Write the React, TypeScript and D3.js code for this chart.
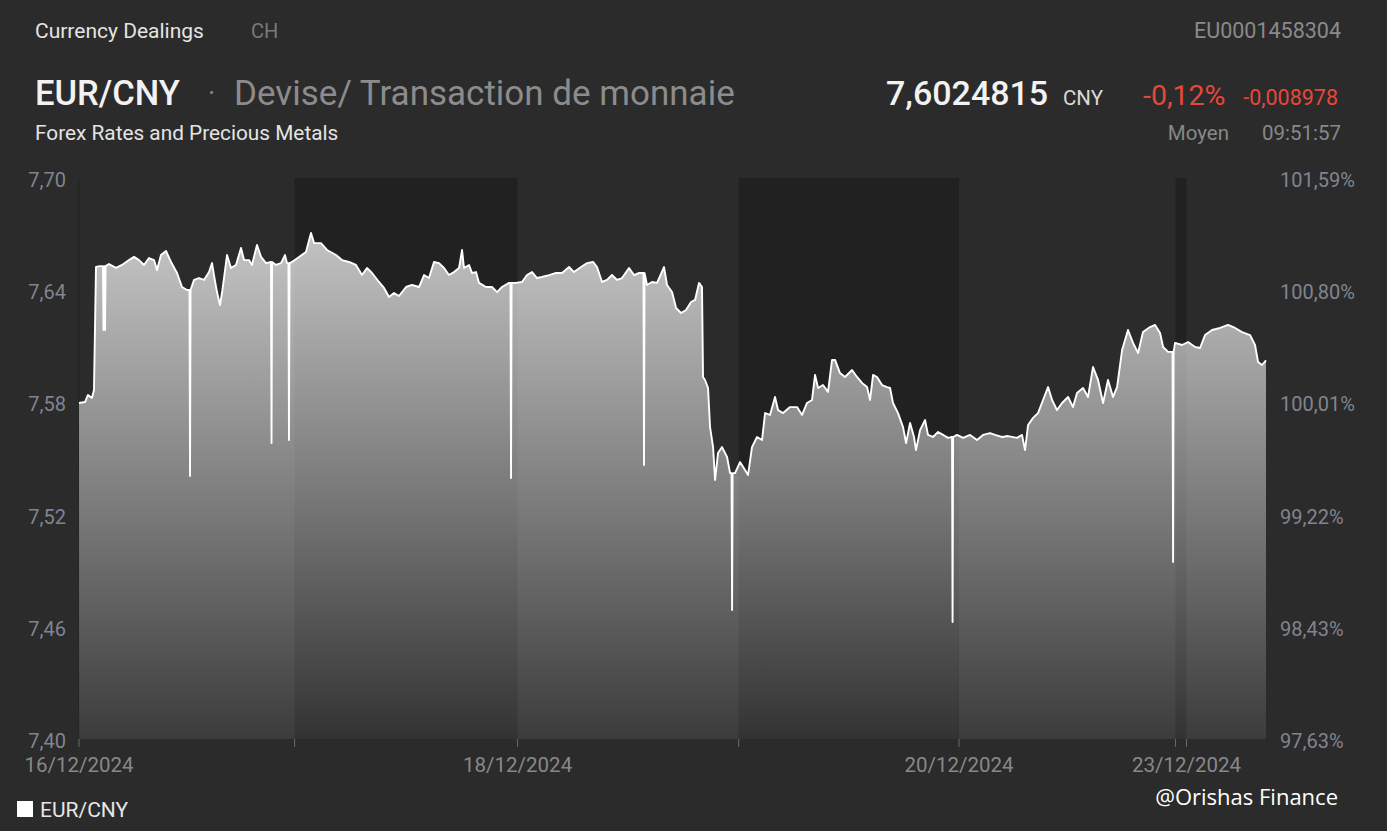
import React from 'react';
import * as d3 from 'd3';

// EUR/CNY intraday quotes: [hours since 16/12/2024 session open, rate]
const rateSeries: [number, number][] = [
  [0.0, 7.5797], [0.66, 7.5802], [0.98, 7.584], [1.42, 7.5824], [1.64, 7.5866],
  [1.86, 7.6524], [2.3, 7.6529], [3.28, 7.654], [4.05, 7.6519], [4.71, 7.6535],
  [5.47, 7.6561], [6.02, 7.6578], [6.57, 7.6561], [7.11, 7.6535], [7.66, 7.6572],
  [8.21, 7.6561], [8.54, 7.6508], [8.97, 7.6588], [9.52, 7.661], [10.07, 7.6551],
  [10.73, 7.6492], [11.27, 7.6417], [11.82, 7.6401], [12.59, 7.6455], [13.13, 7.6465],
  [13.68, 7.6455], [14.23, 7.6497], [14.56, 7.6545], [14.77, 7.6481], [15.1, 7.639],
  [15.43, 7.6321], [15.65, 7.6385], [16.2, 7.6588], [16.63, 7.6519], [17.18, 7.6535],
  [17.73, 7.6626], [18.06, 7.6561], [18.6, 7.6561], [18.93, 7.6535], [19.48, 7.6642],
  [19.92, 7.6578], [20.47, 7.6545], [21.01, 7.6551], [21.56, 7.6535], [22.11, 7.6545],
  [22.54, 7.6588], [22.76, 7.6545], [23.31, 7.6551], [24.08, 7.6578], [24.84, 7.6604],
  [25.39, 7.6706], [25.72, 7.6652], [26.48, 7.6652], [27.14, 7.6615], [28.13, 7.6588],
  [28.78, 7.6561], [29.55, 7.6551], [30.31, 7.6535], [30.97, 7.6481], [31.52, 7.6519],
  [32.07, 7.6492], [32.83, 7.6444], [33.38, 7.6412], [33.93, 7.6364], [34.47, 7.6385],
  [35.02, 7.6369], [35.79, 7.6417], [36.44, 7.6428], [37.21, 7.6417], [37.76, 7.6481],
  [38.3, 7.6465], [38.85, 7.6551], [39.4, 7.6545], [39.95, 7.6519], [40.49, 7.6481],
  [41.04, 7.6497], [41.59, 7.6519], [41.92, 7.6615], [42.13, 7.6519], [42.68, 7.6535],
  [43.01, 7.6492], [43.45, 7.6497], [43.78, 7.6439], [44.54, 7.6417], [45.2, 7.6417],
  [45.75, 7.639], [46.29, 7.6417], [47.06, 7.6439], [47.83, 7.6439], [48.48, 7.6444],
  [49.03, 7.6481], [49.58, 7.6497], [50.12, 7.6465], [50.67, 7.6471], [51.44, 7.6481],
  [52.2, 7.6492], [52.86, 7.6492], [53.63, 7.6524], [54.17, 7.6497], [54.94, 7.6524],
  [55.6, 7.6545], [56.25, 7.6551], [56.69, 7.6524], [57.24, 7.6444], [57.78, 7.6455],
  [58.33, 7.6481], [58.88, 7.6455], [59.43, 7.6465], [60.19, 7.6519], [60.74, 7.6481],
  [61.29, 7.6492], [62.16, 7.6428], [62.71, 7.6444], [63.26, 7.6439], [64.02, 7.6524],
  [64.35, 7.6428], [64.9, 7.639], [65.34, 7.6305], [65.88, 7.6278], [66.43, 7.6294],
  [66.98, 7.6337], [67.42, 7.6348], [67.85, 7.6439], [68.18, 7.6417], [68.29, 7.5936],
  [68.51, 7.592], [68.84, 7.5877], [69.06, 7.5668], [69.39, 7.5561], [69.61, 7.5385],
  [69.93, 7.5529], [70.37, 7.5561], [70.92, 7.5508], [71.25, 7.5422], [71.79, 7.5422],
  [72.34, 7.5481], [72.89, 7.5439], [73.22, 7.5412], [73.65, 7.5561], [74.2, 7.5615],
  [74.75, 7.5599], [75.08, 7.5743], [75.62, 7.5733], [76.17, 7.5829], [76.5, 7.5759],
  [77.05, 7.5743], [77.81, 7.5775], [78.58, 7.5775], [79.13, 7.5733], [79.67, 7.5797],
  [80.22, 7.5813], [80.55, 7.5947], [80.88, 7.5877], [81.42, 7.5893], [81.97, 7.5856],
  [82.41, 7.6027], [82.74, 7.6027], [83.28, 7.5957], [83.83, 7.5936], [84.6, 7.5973],
  [85.14, 7.5936], [85.69, 7.5904], [86.24, 7.5882], [86.57, 7.5813], [86.9, 7.5947],
  [87.33, 7.5936], [87.88, 7.5893], [88.43, 7.5882], [88.76, 7.5877], [89.08, 7.5797],
  [89.63, 7.5743], [90.18, 7.5668], [90.51, 7.5583], [90.95, 7.569], [91.38, 7.5615],
  [91.6, 7.5545], [92.04, 7.5652], [92.59, 7.5706], [92.91, 7.5626], [93.46, 7.5615],
  [94.01, 7.5642], [94.56, 7.5626], [95.1, 7.561], [95.54, 7.5615], [96.09, 7.5626],
  [96.75, 7.561], [97.51, 7.5626], [98.28, 7.5599], [98.93, 7.5626], [99.7, 7.5636],
  [100.25, 7.5626], [101.01, 7.5615], [101.67, 7.562], [102.65, 7.561], [103.2, 7.5626],
  [103.53, 7.5545], [103.86, 7.5679], [104.41, 7.5717], [104.95, 7.5743], [105.5, 7.5813],
  [106.05, 7.5882], [106.49, 7.5813], [107.03, 7.5759], [107.58, 7.5797], [108.24, 7.5829],
  [108.78, 7.5775], [109.22, 7.585], [109.88, 7.5877], [110.42, 7.5829], [110.97, 7.5989],
  [111.52, 7.592], [112.07, 7.5797], [112.61, 7.592], [113.16, 7.5829], [113.6, 7.5882],
  [114.15, 7.608], [114.8, 7.6187], [115.35, 7.6118], [115.9, 7.6064], [116.44, 7.6176],
  [117.21, 7.6203], [117.76, 7.6214], [118.31, 7.6171], [118.64, 7.6096], [119.18, 7.607],
  [119.95, 7.6118], [120.72, 7.6107], [121.37, 7.6123], [122.14, 7.6096], [122.68, 7.6091],
  [123.23, 7.616], [124.0, 7.6187], [124.87, 7.6198], [125.75, 7.6214], [126.52, 7.6198],
  [127.28, 7.6176], [128.16, 7.616], [128.7, 7.6107], [129.03, 7.6016], [129.47, 7.6],
  [129.9, 7.6025],
];

// Isolated off-market ticks: [hour, rate]
const spikeTicks: [number, number][] = [
  [2.68, 7.6187], [2.85, 7.6187], [12.15, 7.5406], [21.07, 7.5583], [22.98, 7.5599],
  [47.28, 7.5396], [61.83, 7.5465], [71.47, 7.469], [95.6, 7.4626], [119.73, 7.4947],
];

const sessionDates = ['16/12/2024', '17/12/2024', '18/12/2024', '19/12/2024', '20/12/2024', '22/12/2024', '23/12/2024'];
const sessionStartHours = [0, 23.6, 48, 72.2, 96.3, 120, 121.2];
const labelledDates = ['16/12/2024', '18/12/2024', '20/12/2024', '23/12/2024'];
const lastHour = 129.9;

const rateTicks = [7.4, 7.46, 7.52, 7.58, 7.64, 7.7];
const referenceRate = 7.5793;

const W = 1387;
const H = 831;
const plot = { left: 79, right: 1266, top: 178, bottom: 739 };
const FONT = 'Roboto, "Open Sans", sans-serif';

function insertSpikes(base: [number, number][], spikes: [number, number][]) {
  const pts = base.map((p) => [p[0], p[1]] as [number, number]);
  const bis = d3.bisector((d: [number, number]) => d[0]).left;
  for (const [h, v] of spikes) {
    const i = bis(pts, h);
    const level = pts[Math.max(0, i - 1)][1];
    pts.splice(i, 0, [h - 0.06, level], [h, v], [h + 0.06, level]);
  }
  return pts;
}

export default function App() {
  const x = d3.scaleLinear().domain([0, lastHour]).range([plot.left, plot.right]);
  const y = d3.scaleLinear().domain([7.4, 7.7]).range([plot.bottom, plot.top]);

  const points = insertSpikes(rateSeries, spikeTicks);
  const area = d3
    .area<[number, number]>()
    .x((d) => x(d[0]))
    .y0(y(7.4))
    .y1((d) => y(d[1]));
  const line = d3
    .line<[number, number]>()
    .x((d) => x(d[0]))
    .y((d) => y(d[1]));

  const fmtRate = (v: number) => d3.format('.2f')(v).replace('.', ',');
  const fmtPct = (v: number) => d3.format('.2f')((v / referenceRate) * 100).replace('.', ',') + '%';

  const bands = sessionStartHours.map((h, i) => ({
    x0: x(h),
    x1: x(i + 1 < sessionStartHours.length ? sessionStartHours[i + 1] : lastHour),
    dark: i % 2 === 1,
    date: sessionDates[i],
  }));

  return (
    <svg
      width={W}
      height={H}
      style={{ position: 'fixed', left: 0, top: 0, display: 'block' }}
      fontFamily={FONT}
    >
      <defs>
        <linearGradient id="fillGrad" gradientUnits="userSpaceOnUse" x1={0} x2={0} y1={plot.top} y2={plot.bottom}>
          <stop offset="0%" stopColor="#ffffff" stopOpacity={0.8} />
          <stop offset="100%" stopColor="#ffffff" stopOpacity={0.08} />
        </linearGradient>
      </defs>
      <rect width={W} height={H} fill="#2b2b2b" />

      {/* Header */}
      <text x={35} y={38} fontSize={21} fill="#e4e4e4">Currency Dealings</text>
      <text x={251} y={38} fontSize={20} fill="#7a7a7a">CH</text>
      <text x={1341} y={38} fontSize={21.5} fill="#8a8a8a" textAnchor="end">EU0001458304</text>

      <text x={35} y={105} fontSize={34.5} fontWeight={500} fill="#f2f2f2">EUR/CNY</text>
      <text x={208} y={102} fontSize={28} fill="#8a8a8a">·</text>
      <text x={234} y={105} fontSize={35} fill="#8c8c8c">Devise/ Transaction de monnaie</text>

      <text x={886} y={105} fontSize={34} fontWeight={500} fill="#f2f2f2">7,6024815</text>
      <text x={1063} y={105} fontSize={20.5} fill="#dadada">CNY</text>
      <text x={1143} y={105} fontSize={28.5} fill="#e5483b">-0,12%</text>
      <text x={1338} y={105} fontSize={21.5} fill="#e5483b" textAnchor="end">-0,008978</text>

      <text x={35} y={140} fontSize={20.8} fill="#e4e4e4">Forex Rates and Precious Metals</text>
      <text x={1229} y={140} fontSize={20.5} fill="#888888" textAnchor="end">Moyen</text>
      <text x={1341} y={140} fontSize={20.5} fill="#888888" textAnchor="end">09:51:57</text>

      {/* Session bands */}
      {bands.map((b, i) => (
        <rect
          key={'band' + i}
          x={b.x0}
          y={plot.top}
          width={b.x1 - b.x0}
          height={plot.bottom - plot.top}
          fill={b.dark ? '#212121' : '#2b2b2b'}
        />
      ))}
      <line x1={plot.left} x2={plot.left} y1={plot.top} y2={plot.bottom} stroke="#222" strokeWidth={1} />

      {/* Rate area and line */}
      <path d={area(points) || ''} fill="url(#fillGrad)" />
      <path d={line(points) || ''} fill="none" stroke="#ffffff" strokeWidth={1.9} strokeLinejoin="round" />

      {/* Left axis */}
      {rateTicks.map((t) => (
        <text key={'l' + t} x={66} y={y(t) + 2} dy="0.35em" fontSize={20} fill="#808590" textAnchor="end">
          {fmtRate(t)}
        </text>
      ))}
      {/* Right axis */}
      {rateTicks.map((t) => (
        <text key={'r' + t} x={1280} y={y(t) + 2} dy="0.35em" fontSize={20} fill="#808590">
          {fmtPct(t)}
        </text>
      ))}

      {/* Time axis */}
      {bands.map((b, i) => (
        <line key={'tick' + i} x1={b.x0} x2={b.x0} y1={plot.bottom} y2={plot.bottom + 8} stroke="#6a6a6a" strokeWidth={1} />
      ))}
      {bands
        .filter((b) => labelledDates.includes(b.date))
        .map((b) => (
          <text key={'d' + b.date} x={b.x0} y={772} fontSize={20.5} fill="#888888" textAnchor="middle">
            {b.date}
          </text>
        ))}

      {/* Legend */}
      <rect x={17} y={801} width={16} height={16} fill="#ffffff" />
      <text x={40} y={817} fontSize={21} fill="#e6e6e6">EUR/CNY</text>

      <text x={1338} y={805} fontSize={22} fill="#ffffff" textAnchor="end" fontFamily='"Open Sans", sans-serif'>
        @Orishas Finance
      </text>
    </svg>
  );
}
